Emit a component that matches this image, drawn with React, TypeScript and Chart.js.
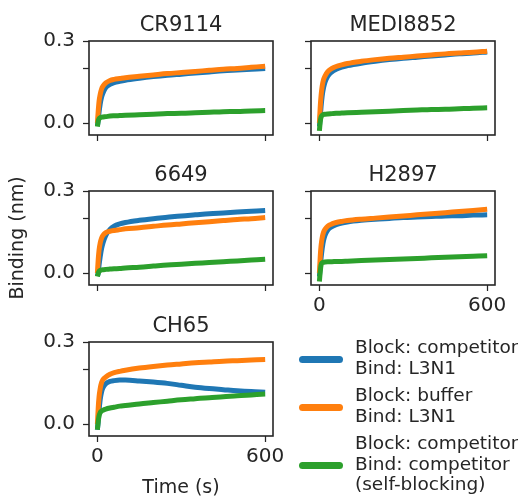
import React, { useEffect, useRef } from "react";
import { Chart, registerables } from "chart.js";

Chart.register(...registerables);

// ---------------- data ----------------
const times = [0, 3, 6, 10, 15, 20, 30, 45, 60, 80, 100, 150, 200, 250, 300, 350, 400, 450, 500, 550, 600];

const panelNames = ["CR9114", "MEDI8852", "6649", "H2897", "CH65"];

const seriesLabels = [
  ["Block: competitor", "Bind: L3N1"],
  ["Block: buffer", "Bind: L3N1"],
  ["Block: competitor", "Bind: competitor", "(self-blocking)"],
];

// CR9114
const cr9114Blue = [-0.01, 0.01, 0.04, 0.07, 0.095, 0.11, 0.13, 0.142, 0.148, 0.153, 0.157, 0.164, 0.17, 0.175, 0.179, 0.183, 0.187, 0.191, 0.194, 0.197, 0.2];
const cr9114Orange = [0.0, 0.045, 0.08, 0.105, 0.125, 0.135, 0.147, 0.156, 0.16, 0.163, 0.166, 0.171, 0.176, 0.181, 0.185, 0.189, 0.193, 0.197, 0.2, 0.204, 0.208];
const cr9114Green = [-0.012, 0.008, 0.016, 0.02, 0.022, 0.023, 0.024, 0.026, 0.027, 0.028, 0.029, 0.031, 0.033, 0.035, 0.036, 0.038, 0.04, 0.042, 0.043, 0.045, 0.046];

// MEDI8852
const medi8852Blue = [-0.012, 0.02, 0.06, 0.1, 0.13, 0.15, 0.172, 0.188, 0.197, 0.205, 0.21, 0.219, 0.226, 0.232, 0.237, 0.241, 0.245, 0.249, 0.253, 0.256, 0.26];
const medi8852Orange = [0.0, 0.06, 0.1, 0.135, 0.16, 0.172, 0.188, 0.2, 0.207, 0.213, 0.218, 0.226, 0.232, 0.237, 0.241, 0.245, 0.249, 0.253, 0.256, 0.259, 0.263];
const medi8852Green = [-0.028, 0.005, 0.022, 0.029, 0.032, 0.033, 0.034, 0.035, 0.036, 0.037, 0.038, 0.04, 0.042, 0.044, 0.046, 0.048, 0.05, 0.051, 0.053, 0.055, 0.056];

// 6649
const ab6649Blue = [-0.01, 0.0, 0.03, 0.06, 0.09, 0.11, 0.138, 0.16, 0.172, 0.18, 0.185, 0.193, 0.199, 0.204, 0.209, 0.213, 0.217, 0.22, 0.223, 0.226, 0.229];
const ab6649Orange = [0.0, 0.05, 0.085, 0.11, 0.128, 0.138, 0.148, 0.153, 0.156, 0.159, 0.162, 0.166, 0.171, 0.176, 0.18, 0.184, 0.188, 0.192, 0.196, 0.199, 0.203];
const ab6649Green = [-0.012, 0.0, 0.007, 0.01, 0.012, 0.013, 0.014, 0.015, 0.016, 0.017, 0.019, 0.022, 0.026, 0.03, 0.033, 0.036, 0.039, 0.042, 0.045, 0.048, 0.051];

// H2897
const h2897Blue = [-0.012, 0.02, 0.055, 0.09, 0.12, 0.138, 0.158, 0.17, 0.177, 0.183, 0.187, 0.193, 0.197, 0.2, 0.203, 0.205, 0.207, 0.209, 0.21, 0.212, 0.213];
const h2897Orange = [0.0, 0.06, 0.1, 0.13, 0.15, 0.16, 0.172, 0.18, 0.185, 0.189, 0.192, 0.197, 0.201, 0.205, 0.209, 0.213, 0.217, 0.221, 0.225, 0.229, 0.233];
const h2897Green = [-0.03, 0.005, 0.03, 0.038, 0.04, 0.041, 0.042, 0.042, 0.043, 0.043, 0.044, 0.046, 0.048, 0.05, 0.052, 0.054, 0.056, 0.058, 0.06, 0.062, 0.064];

// CH65
const ch65Blue = [-0.02, 0.01, 0.05, 0.09, 0.118, 0.133, 0.148, 0.156, 0.159, 0.161, 0.161, 0.158, 0.154, 0.149, 0.142, 0.135, 0.13, 0.126, 0.122, 0.119, 0.117];
const ch65Orange = [0.0, 0.06, 0.1, 0.13, 0.152, 0.163, 0.172, 0.182, 0.188, 0.193, 0.197, 0.205, 0.211, 0.216, 0.22, 0.224, 0.227, 0.23, 0.232, 0.234, 0.236];
const ch65Green = [-0.02, 0.01, 0.03, 0.042, 0.048, 0.051, 0.055, 0.059, 0.062, 0.066, 0.068, 0.074, 0.079, 0.084, 0.089, 0.093, 0.097, 0.1, 0.104, 0.107, 0.11];

const panelSeries = [
  [cr9114Blue, cr9114Orange, cr9114Green],
  [medi8852Blue, medi8852Orange, medi8852Green],
  [ab6649Blue, ab6649Orange, ab6649Green],
  [h2897Blue, h2897Orange, h2897Green],
  [ch65Blue, ch65Orange, ch65Green],
];

const xTickValues = [0, 600];
const xTickLabels = ["0", "600"];
const yTickValues = [0, 0.2, 0.3];
const yTickLabels = ["0.0", "", "0.3"];

// ---------------- style ----------------
const COLORS = ["#1f77b4", "#ff7f0e", "#2ca02c"];
const TEXT = "#262626";
const FONT = "'DejaVu Sans'";

const AREA_W = 184;
const AREA_H = 94;
const Y_AXIS_W = 89;
const TOP_PAD = 41;
const RIGHT_PAD = 22;

type PanelCfg = {
  left: number;
  top: number;
  showY: boolean;
  showX: boolean;
  yTitle?: string;
  xTitle?: string;
  xAxisH: number;
};

const panelCfgs: PanelCfg[] = [
  { left: 89, top: 41, showY: true, showX: false, xAxisH: 40 },
  { left: 311, top: 41, showY: false, showX: false, xAxisH: 40 },
  { left: 89, top: 191, showY: true, showX: false, xAxisH: 40, yTitle: "Binding (nm)" },
  { left: 311, top: 191, showY: false, showX: true, xAxisH: 40 },
  { left: 89, top: 342, showY: true, showX: true, xAxisH: 63, xTitle: "Time (s)" },
];

function makeChart(canvas: HTMLCanvasElement, idx: number) {
  const cfg = panelCfgs[idx];
  const title = panelNames[idx];
  const series = panelSeries[idx];

  const datasets = series.map((vals, si) => ({
    label: seriesLabels[si].join(" "),
    data: times.map((t, i) => ({ x: t, y: vals[i] })),
    borderColor: COLORS[si],
    backgroundColor: COLORS[si],
    borderWidth: 5,
    pointRadius: 0,
    cubicInterpolationMode: "monotone" as const,
    fill: false,
    order: 3 - si,
  }));

  const framePlugin = {
    id: "frame" + idx,
    afterDatasetsDraw(chart: any) {
      const { ctx, chartArea: a } = chart;
      ctx.save();
      ctx.strokeStyle = TEXT;
      ctx.lineWidth = 1.6;
      ctx.strokeRect(a.left, a.top, a.right - a.left, a.bottom - a.top);
      ctx.restore();
    },
    afterDraw(chart: any) {
      const { ctx, chartArea: a } = chart;
      ctx.save();
      ctx.fillStyle = TEXT;
      ctx.font = `21px ${FONT}`;
      ctx.textAlign = "center";
      ctx.textBaseline = "alphabetic";
      ctx.fillText(title, (a.left + a.right) / 2, a.top - 10);
      ctx.restore();
    },
  };

  return new Chart(canvas, {
    type: "line",
    data: { datasets },
    plugins: [framePlugin],
    options: {
      animation: false,
      responsive: false,
      maintainAspectRatio: false,
      events: [],
      layout: { padding: { top: TOP_PAD, right: RIGHT_PAD, left: 0, bottom: 0 } },
      plugins: { legend: { display: false }, tooltip: { enabled: false }, title: { display: false } },
      scales: {
        x: {
          type: "linear",
          min: -30,
          max: 628,
          afterBuildTicks: (s: any) => {
            s.ticks = xTickValues.map((v) => ({ value: v }));
          },
          afterFit: (s: any) => {
            s.height = cfg.xAxisH;
          },
          ticks: {
            autoSkip: false,
            maxRotation: 0,
            padding: 3,
            color: TEXT,
            font: { size: 20, family: FONT },
            callback: (_v: any, i: number) => (cfg.showX ? xTickLabels[i] : ""),
          },
          grid: {
            display: true,
            drawOnChartArea: false,
            drawTicks: true,
            tickLength: 6,
            tickWidth: 1.25,
            tickColor: TEXT,
          },
          border: { display: false },
          title: cfg.xTitle
            ? { display: true, text: cfg.xTitle, color: TEXT, font: { size: 19, family: FONT }, padding: { top: 0, bottom: 0 } }
            : { display: false },
        },
        y: {
          type: "linear",
          min: -0.043,
          max: 0.3,
          afterBuildTicks: (s: any) => {
            s.ticks = yTickValues.map((v) => ({ value: v }));
          },
          afterFit: (s: any) => {
            s.width = Y_AXIS_W;
          },
          ticks: {
            autoSkip: false,
            padding: 8,
            color: TEXT,
            font: { size: 20, family: FONT },
            callback: (_v: any, i: number) => (cfg.showY ? yTickLabels[i] : ""),
          },
          grid: {
            display: true,
            drawOnChartArea: false,
            drawTicks: true,
            tickLength: 6,
            tickWidth: 1.25,
            tickColor: TEXT,
          },
          border: { display: false },
          title: cfg.yTitle
            ? { display: true, text: cfg.yTitle, color: TEXT, font: { size: 19, family: FONT }, padding: { top: 7, bottom: 0 } }
            : { display: false },
        },
      },
    } as any,
  });
}

function Panel({ idx }: { idx: number }) {
  const ref = useRef<HTMLCanvasElement | null>(null);
  const cfg = panelCfgs[idx];
  const w = Y_AXIS_W + AREA_W + RIGHT_PAD;
  const h = TOP_PAD + AREA_H + cfg.xAxisH;
  useEffect(() => {
    if (!ref.current) return;
    const chart = makeChart(ref.current, idx);
    return () => chart.destroy();
  }, [idx]);
  return (
    <canvas
      ref={ref}
      width={w}
      height={h}
      style={{
        position: "absolute",
        left: cfg.left - Y_AXIS_W,
        top: cfg.top - TOP_PAD,
        width: w,
        height: h,
      }}
    />
  );
}

const legendHandleY = [359, 407, 465];
const legendTextTop = [337, 385, 433];

function Legend() {
  return (
    <>
      {seriesLabels.map((lines, i) => (
        <React.Fragment key={i}>
          <div
            style={{
              position: "absolute",
              left: 299,
              top: legendHandleY[i] - 3.5,
              width: 44,
              height: 7,
              borderRadius: 3.5,
              background: COLORS[i],
            }}
          />
          <div
            style={{
              position: "absolute",
              left: 355,
              top: legendTextTop[i],
              fontFamily: FONT,
              fontSize: 18.5,
              lineHeight: "20.5px",
              color: TEXT,
              whiteSpace: "pre",
            }}
          >
            {lines.join("\n")}
          </div>
        </React.Fragment>
      ))}
    </>
  );
}

export default function App() {
  return (
    <div
      style={{
        position: "absolute",
        left: 0,
        top: 0,
        width: 518,
        height: 502,
        overflow: "hidden",
        background: "#ffffff",
      }}
    >
      {panelNames.map((_, i) => (
        <Panel key={i} idx={i} />
      ))}
      <Legend />
    </div>
  );
}
